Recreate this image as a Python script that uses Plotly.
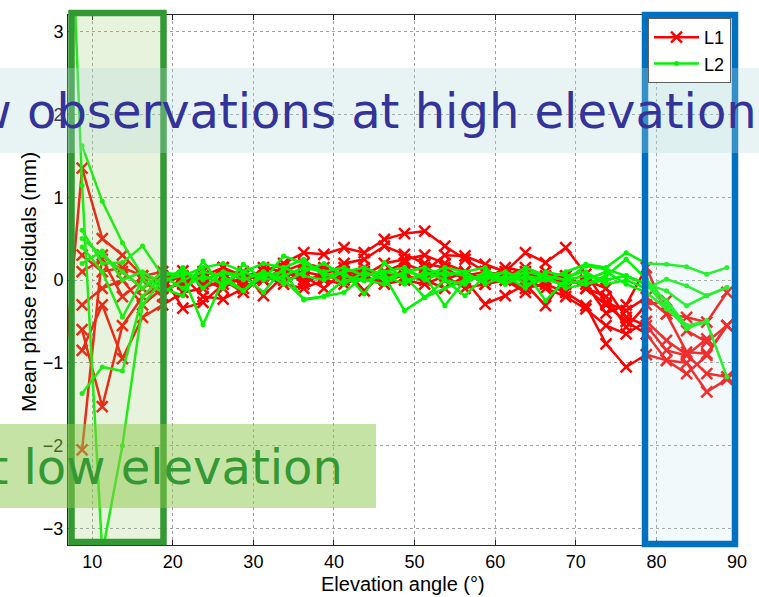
import plotly.graph_objects as go

# Elevation bins (deg); 6.25 lies just outside the visible axis
ELEV = [6.25, 8.75, 11.25, 13.75, 16.25, 18.75, 21.25, 23.75, 26.25, 28.75, 31.25,
        33.75, 36.25, 38.75, 41.25, 43.75, 46.25, 48.75, 51.25, 53.75, 56.25,
        58.75, 61.25, 63.75, 66.25, 68.75, 71.25, 73.75, 76.25, 78.75, 81.25,
        83.75, 86.25, 88.75]

# L1 mean phase residuals (mm)
L1_a = [-1.4, 1.35, 0.50, 0.30, 0.05, 0.00, 0.11, -0.05, 0.15, 0.05, 0.10,
        0.20, 0.33, 0.31, 0.39, 0.33, 0.49, 0.56, 0.59, 0.41, 0.25,
        0.10, 0.05, 0.00, -0.10, -0.20, -0.35, -0.55, -0.65, -0.50, -0.73,
        -0.90, -1.13, -1.17]
L1_b = [None, -2.05, 0.30, 0.10, -0.10, 0.05, -0.34, -0.27, -0.05, 0.10, -0.19,
        0.05, 0.10, 0.05, 0.20, 0.25, 0.41, 0.31, 0.20, 0.15, 0.00,
        -0.29, -0.19, -0.05, -0.31, 0.05, -0.10, -0.30, -0.50, -0.65, -0.97,
        -1.00, -1.35, -1.20]
L1_c = [None, -0.60, -1.53, -0.55, -0.20, -0.05, 0.05, -0.20, -0.23, -0.10, 0.00,
        0.15, -0.05, 0.10, 0.15, -0.13, 0.10, 0.20, 0.10, 0.30, 0.29,
        0.19, 0.10, 0.33, 0.21, 0.39, 0.07, -0.27, -0.37, -0.21, -0.41,
        -0.45, -0.51, -0.15]
L1_d = [None, -0.85, -0.30, -0.95, -0.45, -0.30, -0.15, -0.10, 0.00, -0.15, 0.05,
        -0.05, -0.10, 0.00, -0.05, 0.05, -0.05, 0.00, -0.05, 0.05, -0.10,
        -0.05, 0.00, -0.10, -0.05, -0.15, -0.31, -0.77, -1.05, -0.90, -0.97,
        -1.13, -0.91, -0.55]
L1_e = [None, 0.30, 0.10, 0.15, 0.05, 0.10, 0.00, 0.05, 0.15, 0.00, 0.10,
        0.00, 0.05, -0.10, 0.10, 0.05, 0.20, 0.25, 0.30, 0.20, 0.10,
        0.00, 0.15, 0.10, 0.00, 0.05, -0.10, -0.20, -0.57, -0.30, -0.25,
        -0.61, -0.75, -0.55]
L1_f = [None, 0.10, 0.25, -0.20, 0.00, -0.20, 0.05, 0.00, -0.10, 0.05, 0.00,
        0.10, 0.00, 0.05, 0.00, 0.10, 0.00, 0.05, 0.00, -0.10, 0.05,
        0.10, 0.05, 0.15, 0.05, -0.05, 0.00, -0.10, -0.45, -0.55, -0.85,
        -0.91, -0.71, None]
L1_g = [None, -0.30, -0.10, 0.00, -0.30, -0.10, -0.05, 0.10, 0.05, -0.05, 0.15,
        0.10, 0.20, 0.15, 0.05, 0.15, 0.05, 0.10, 0.15, 0.00, 0.10,
        -0.05, 0.00, -0.15, 0.10, 0.00, -0.05, -0.40, -0.30, 0.15, -0.41,
        -0.87, -0.89, -0.55]

# L2 mean phase residuals (mm)
L2_a = [None, 1.62, 0.95, 0.45, 0.05, -0.10, -0.19, 0.23, -0.10, 0.19, 0.00,
        0.29, 0.20, 0.10, 0.15, 0.05, 0.10, 0.15, 0.00, 0.10, 0.05,
        0.00, 0.10, -0.05, 0.00, 0.10, 0.19, 0.15, 0.33, 0.20, 0.19,
        0.16, 0.07, 0.15]
L2_b = [7.3, 1.14, -3.30, -2.00, -0.30, 0.00, 0.05, -0.54, 0.00, -0.13, 0.05,
        0.10, -0.24, -0.20, 0.00, -0.01, 0.05, -0.37, -0.21, -0.10, 0.00,
        0.05, -0.05, 0.10, -0.25, 0.00, 0.05, 0.00, 0.05, -0.05, -0.33,
        -0.59, -0.49, None]
L2_c = [None, 0.60, 0.20, 0.21, 0.41, 0.05, 0.10, 0.00, 0.10, 0.05, -0.15,
        0.15, 0.05, 0.00, 0.10, -0.17, 0.21, 0.00, 0.05, -0.31, 0.00,
        0.05, 0.10, 0.00, 0.05, 0.00, 0.17, 0.13, 0.05, -0.05, -0.13,
        -0.31, -0.19, -0.09]
L2_d = [None, 0.40, 0.10, -0.45, 0.00, -0.15, 0.00, 0.10, 0.05, -0.13, 0.10,
        0.00, -0.23, -0.20, -0.15, 0.05, 0.10, 0.05, -0.21, 0.00, -0.19,
        0.05, 0.00, 0.10, 0.05, 0.00, -0.05, 0.05, 0.25, 0.01, -0.27,
        -0.57, -0.51, -1.17]
L2_e = [None, -1.37, -1.05, -1.10, -0.20, 0.05, -0.10, 0.05, -0.05, 0.10, 0.00,
        0.05, 0.15, 0.10, -0.05, 0.10, 0.00, 0.10, 0.05, 0.15, 0.10,
        -0.05, 0.05, -0.10, 0.10, 0.05, 0.10, -0.05, 0.00, -0.10, 0.01,
        -0.07, -0.19, -0.09]
L2_f = [None, 0.20, 0.35, 0.00, 0.10, -0.05, 0.15, -0.10, 0.10, 0.00, 0.10,
        -0.05, 0.10, 0.20, 0.05, 0.00, -0.05, 0.10, 0.15, 0.05, 0.10,
        0.15, -0.05, 0.05, 0.00, -0.05, 0.00, 0.10, -0.05, -0.15, -0.35,
        -0.55, -0.50, None]
L2_g = [None, 0.50, 0.30, 0.10, -0.10, 0.10, 0.05, 0.15, 0.20, 0.10, 0.20,
        0.15, 0.25, 0.05, 0.10, 0.15, 0.05, -0.05, 0.10, 0.00, -0.05,
        0.10, 0.00, 0.15, 0.05, -0.10, -0.05, 0.00, 0.05, -0.05, -0.25,
        -0.55, None, None]

L1_SERIES = [L1_a, L1_b, L1_c, L1_d, L1_e, L1_f, L1_g]
L2_SERIES = [L2_a, L2_b, L2_c, L2_d, L2_e, L2_f, L2_g]

X_TICKS = [10, 20, 30, 40, 50, 60, 70, 80, 90]
Y_TICKS = [-3, -2, -1, 0, 1, 2, 3]

RED = "rgb(255,0,0)"
GREEN = "rgb(0,245,0)"

fig = go.Figure()
for i, s in enumerate(L1_SERIES):
    fig.add_trace(go.Scatter(
        x=ELEV, y=s, mode="lines+markers", name="L1", legendgroup="L1",
        showlegend=(i == 0),
        line=dict(color=RED, width=2.5),
        marker=dict(symbol="x-thin", size=11, color=RED, line=dict(width=2.5, color=RED)),
    ))
for i, s in enumerate(L2_SERIES):
    fig.add_trace(go.Scatter(
        x=ELEV, y=s, mode="lines+markers", name="L2", legendgroup="L2",
        showlegend=(i == 0),
        line=dict(color=GREEN, width=2.5),
        marker=dict(symbol="circle", size=5, color=GREEN),
    ))

W, H = 759, 597
L, R, T, B = 68, 22, 15, 52
PW, PH = W - L - R, H - T - B


def px(xp):
    return (xp - L) / PW


def py(yp):
    return (H - B - yp) / PH


shapes = [
    # highlight boxes (fills)
    dict(type="rect", xref="paper", yref="paper", x0=px(71.5), x1=px(163.5),
         y0=py(542), y1=py(13), fillcolor="rgba(150,200,100,0.22)", line=dict(width=0),
         layer="above"),
    dict(type="rect", xref="paper", yref="paper", x0=px(645), x1=px(735),
         y0=py(544), y1=py(15), fillcolor="rgba(190,225,230,0.2)", line=dict(width=0),
         layer="above"),
    # borders
    dict(type="rect", xref="paper", yref="paper", x0=px(71.5), x1=px(163.5),
         y0=py(542), y1=py(13), line=dict(color="rgb(51,153,51)", width=6.5),
         layer="above"),
    dict(type="rect", xref="paper", yref="paper", x0=px(645), x1=px(735),
         y0=py(544), y1=py(15), line=dict(color="rgb(0,112,192)", width=6.5),
         layer="above"),
    # banners
    dict(type="rect", xref="paper", yref="paper", x0=px(-5), x1=px(765),
         y0=py(153), y1=py(68), fillcolor="rgba(178,218,220,0.30)", line=dict(width=0),
         layer="above"),
    dict(type="rect", xref="paper", yref="paper", x0=px(-5), x1=px(376),
         y0=py(508), y1=py(424), fillcolor="rgba(139,199,75,0.50)", line=dict(width=0),
         layer="above"),
]

annotations = [
    dict(text="Few observations at high elevation", xref="paper", yref="paper",
         x=px(759), y=py(111), xanchor="right", yanchor="middle", showarrow=False,
         font=dict(family="DejaVu Sans", size=48, color="rgb(51,51,153)")),
    dict(text="at low elevation", xref="paper", yref="paper",
         x=px(345), y=py(467), xanchor="right", yanchor="middle", showarrow=False,
         font=dict(family="DejaVu Sans", size=48, color="rgb(51,153,51)")),
    dict(text="Elevation angle (°)", xref="paper", yref="paper",
         x=0.5, y=py(584), xanchor="center", yanchor="middle", showarrow=False,
         font=dict(family="Liberation Sans", size=20, color="black")),
    dict(text="Mean phase residuals (mm)", xref="paper", yref="paper",
         x=px(28), y=py(282), xanchor="center", yanchor="middle", showarrow=False,
         textangle=-90,
         font=dict(family="Liberation Sans", size=21, color="black")),
]

axis_common = dict(
    showline=True, linecolor="#262626", linewidth=1, mirror="ticks",
    ticks="inside", ticklen=5, tickcolor="#262626",
    showgrid=True, gridcolor="#a0a0a0", griddash="dot", gridwidth=1,
    zeroline=False,
    tickfont=dict(family="Liberation Sans", size=18, color="black"),
)

fig.update_layout(
    width=W, height=H,
    margin=dict(l=L, r=R, t=T, b=B),
    paper_bgcolor="white", plot_bgcolor="white",
    xaxis=dict(range=[7, 90], tickvals=X_TICKS, **axis_common),
    yaxis=dict(range=[-3.2, 3.2], tickvals=Y_TICKS, **axis_common),
    shapes=shapes,
    annotations=annotations,
    showlegend=True,
    legend=dict(x=px(648), y=py(18), xanchor="left", yanchor="top",
                bgcolor="white", bordercolor="#606060", borderwidth=1,
                font=dict(family="Liberation Sans", size=18, color="black"),
                tracegroupgap=0, itemwidth=45),
)

fig.write_html("out.html")
